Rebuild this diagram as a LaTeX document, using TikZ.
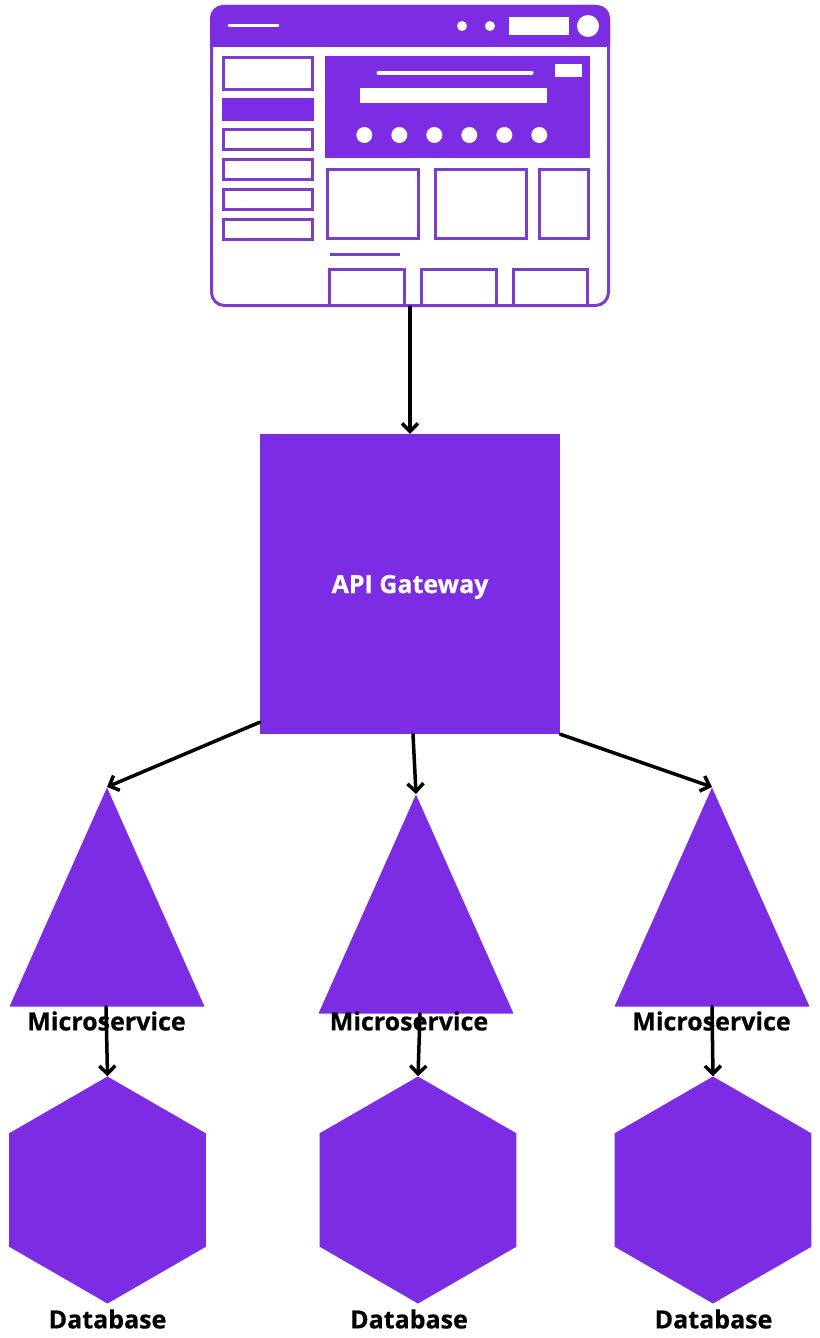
\documentclass[tikz,border=0pt]{standalone}
\usepackage{fontspec}
\setmainfont{Open Sans}[BoldFeatures={FakeBold=0.6}]
\usetikzlibrary{shapes.geometric, arrows.meta}
\definecolor{apipurple}{RGB}{124, 45, 228}
\definecolor{mockline}{RGB}{122, 62, 200}
\tikzset{
    gatewaynode/.style={rectangle, fill=apipurple, text=white, minimum size=300pt, inner sep=0pt, font=\fontsize{25}{30}\selectfont\bfseries},
    servicenode/.style={isosceles triangle, isosceles triangle stretches, shape border rotate=90, fill=apipurple, inner sep=0pt, minimum width=195pt, minimum height=219pt, anchor=apex},
    dbnode/.style={regular polygon, regular polygon sides=6, shape border rotate=30, fill=apipurple, inner sep=0pt, minimum size=227pt},
    namelabel/.style={font=\fontsize{25}{30}\selectfont\bfseries, text=black, inner sep=0pt},
    link/.style={-{Straight Barb[length=8pt, width=16pt, line width=3.5pt]}, line width=3.5pt, black, line cap=round},
    windownode/.style={rectangle, draw=mockline, line width=3pt, rounded corners=13pt, minimum width=397pt, minimum height=299pt},
    mockbox/.style={draw=mockline, line width=3pt},
    mockfill/.style={fill=apipurple},
    mockwhite/.style={fill=white},
    mockstroke/.style={line width=3pt, white, line cap=round}
}
\begin{document}
\begin{tikzpicture}[x=1pt, y=-1pt]
    \useasboundingbox (0,0) rectangle (819,1338);
    % browser window
    \node[windownode] (browser) at (410,156) {};
    \fill[mockfill] (210,47) -- (210,30) [rounded corners=13pt] -- (210,5) -- (610,5) -- (610,30) [sharp corners] -- (610,47) -- cycle;
    \draw[mockstroke] (229,25.5) -- (278,25.5);
    \fill[mockwhite] (462,26) circle (5);
    \fill[mockwhite] (490,26) circle (5);
    \fill[mockwhite] (509,17) rectangle (569,35);
    \fill[mockwhite] (588,26) circle (11);
    % sidebar
    \draw[mockbox] (223.5,57.5) rectangle (312.5,89.5);
    \fill[mockfill] (222,98) rectangle (314,121);
    \draw[mockbox] (223.5,129.5) rectangle (312.5,149.5);
    \draw[mockbox] (223.5,159.5) rectangle (312.5,179.5);
    \draw[mockbox] (223.5,189.5) rectangle (312.5,209.5);
    \draw[mockbox] (223.5,219.5) rectangle (312.5,239.5);
    % banner
    \fill[mockfill] (325,56) rectangle (590,158);
    \fill[mockwhite] (555,64) rectangle (582,77);
    \draw[mockstroke] (378,73) -- (532,73);
    \fill[mockwhite] (360,88) rectangle (547,103);
    \fill[mockwhite] (364.3,135) circle (8);
    \fill[mockwhite] (399.3,135) circle (8);
    \fill[mockwhite] (434.3,135) circle (8);
    \fill[mockwhite] (469.3,135) circle (8);
    \fill[mockwhite] (504.3,135) circle (8);
    \fill[mockwhite] (539.3,135) circle (8);
    % cards
    \draw[mockbox] (327.5,169.5) rectangle (418.5,238.5);
    \draw[mockbox] (435.5,169.5) rectangle (526.5,238.5);
    \draw[mockbox] (539.5,169.5) rectangle (588.5,238.5);
    \draw[mockbox] (330,254) -- (400,254);
    \draw[mockbox] (329.5,306) |- (404.5,269.5) -- (404.5,306);
    \draw[mockbox] (421.5,306) |- (496.5,269.5) -- (496.5,306);
    \draw[mockbox] (513.5,306) |- (587.5,269.5) -- (587.5,306);

    \node[gatewaynode] (gateway) at (410,584) {\raisebox{-9pt}[0pt][0pt]{API Gateway}};

    \node[servicenode] (serviceA) at (107,787) {};
    \node[servicenode] (serviceB) at (416,794) {};
    \node[servicenode] (serviceC) at (712,787) {};
    \node[namelabel] (serviceAname) at (106.5,1021) {Microservice};
    \node[namelabel] (serviceBname) at (409,1021) {Microservice};
    \node[namelabel] (serviceCname) at (711.5,1021) {Microservice};

    \node[dbnode] (dbA) at (107.5,1190) {};
    \node[dbnode] (dbB) at (418,1190) {};
    \node[dbnode] (dbC) at (713,1190) {};
    \node[namelabel] (dbAname) at (107.5,1319) {Database};
    \node[namelabel] (dbBname) at (409,1319) {Database};
    \node[namelabel] (dbCname) at (713.5,1319) {Database};

    \draw[link] (browser.south) -- (gateway.north);
    \draw[link] ([yshift=12pt]gateway.south west) -- (serviceA.apex);
    \draw[link] ([xshift=3pt]gateway.south) -- (serviceB.apex);
    \draw[link] (gateway.south east) -- (serviceC.apex);
    \draw[link] ([xshift=-1pt]serviceA.south) -- (dbA.north);
    \draw[link] ([xshift=4pt]serviceB.south) -- (dbB.north);
    \draw[link] (serviceC.south) -- (dbC.north);
\end{tikzpicture}
\end{document}
